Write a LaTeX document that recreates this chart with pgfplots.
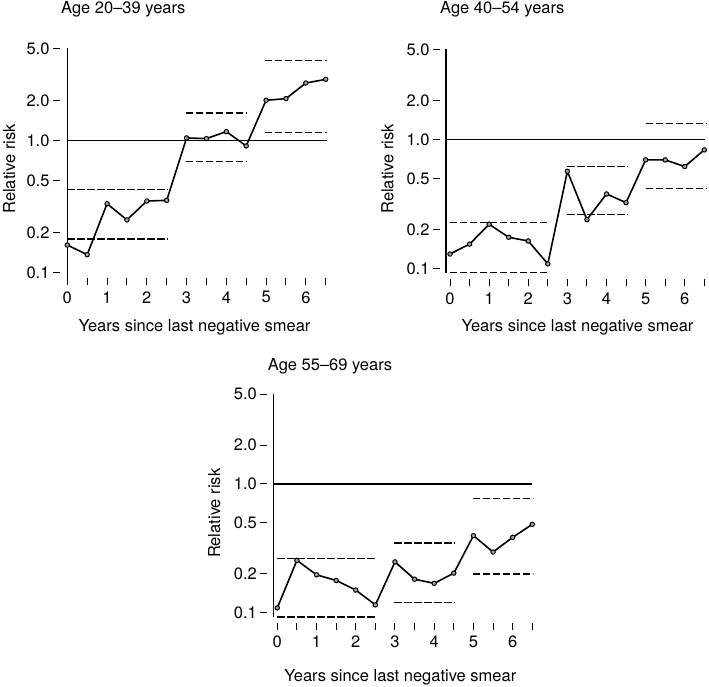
\documentclass[border=0pt]{standalone}
\usepackage{fontspec}
\setmainfont{TeX Gyre Heros}
\usepackage{pgfplots}
\pgfplotsset{compat=1.18}
\newcommand{\fs}{\fontsize{16.5}{19.8}\selectfont}
\pgfplotsset{
  myrefl/.style={black, line width=1.4pt, forget plot},
  myci/.style={black, line width=1.4pt, dash pattern=on 7.3pt off 2.7pt, forget plot},
  myrr/.style={black, line width=1.6pt, mark=*, mark size=2.2pt,
    mark options={solid, fill=gray!70, draw=black, line width=1pt}},
}
\begin{document}
\begin{tikzpicture}
\useasboundingbox (0,0) rectangle (709pt,686pt);
% ---------------- Panel 1: Age 20-39 ----------------
\begin{axis}[scale only axis, anchor=south west, ymode=log, ymax=5, xmax=6.6,
    axis x line*=bottom, axis y line*=left,
    axis line style={draw=none},
    tick align=outside, major tick length=7pt,
    tick style={black, line width=1pt},
    yminorticks=false, xminorticks=false,
    ytick={0.1,0.2,0.5,1,2,5},
    yticklabels={0.1,0.2,0.5,1.0,2.0,5.0},
    xtick={0,0.5,1,1.5,2,2.5,3,3.5,4,4.5,5,5.5,6,6.5},
    xticklabels={0,,1,,2,,3,,4,,5,,6,},
    tick label style={font=\fs},
    xticklabel style={yshift=-3pt},
    /pgf/number format/assume math mode=true,
    clip=false,
  at={(60pt,408pt)}, width=269.7pt, height=229.7pt,
  xmin=-0.184, ymin=0.0912]
  \addplot[myrefl, line width=1.6pt] coordinates {(0,0.0855) (0,5)};
  \addplot[myrefl] coordinates {(0,1) (6.52,1)};
  \addplot[myci] coordinates {(0,0.428) (2.52,0.428)};
  \addplot[myci] coordinates {(0,0.180) (2.52,0.180)};
  \addplot[myci] coordinates {(2.98,1.62) (4.51,1.62)};
  \addplot[myci] coordinates {(2.98,0.693) (4.51,0.693)};
  \addplot[myci] coordinates {(4.97,4.04) (6.52,4.04)};
  \addplot[myci] coordinates {(4.97,1.15) (6.52,1.15)};
  \addplot[myrr] coordinates {
    (0,0.162) (0.5,0.137) (1,0.333) (1.5,0.251) (2,0.349) (2.5,0.353)
    (3,1.048) (3.5,1.036) (4,1.17) (4.5,0.912)
    (5,2.02) (5.5,2.08) (6,2.73) (6.5,2.91)};
\end{axis}
% ---------------- Panel 2: Age 40-54 ----------------
\begin{axis}[scale only axis, anchor=south west, ymode=log, ymax=5, xmax=6.6,
    axis x line*=bottom, axis y line*=left,
    axis line style={draw=none},
    tick align=outside, major tick length=7pt,
    tick style={black, line width=1pt},
    yminorticks=false, xminorticks=false,
    ytick={0.1,0.2,0.5,1,2,5},
    yticklabels={0.1,0.2,0.5,1.0,2.0,5.0},
    xtick={0,0.5,1,1.5,2,2.5,3,3.5,4,4.5,5,5.5,6,6.5},
    xticklabels={0,,1,,2,,3,,4,,5,,6,},
    tick label style={font=\fs},
    xticklabel style={yshift=-3pt},
    /pgf/number format/assume math mode=true,
    clip=false,
  at={(440pt,406.7pt)}, width=268.2pt, height=230pt,
  xmin=-0.256, ymin=0.0828]
  \addplot[myrefl, line width=1.6pt] coordinates {(-0.1,0.0931) (-0.1,5)};
  \addplot[myrefl] coordinates {(-0.1,1) (6.52,1)};
  \addplot[myci] coordinates {(0,0.227) (2.53,0.227)};
  \addplot[myci] coordinates {(0,0.093) (2.53,0.093)};
  \addplot[myci] coordinates {(3,0.618) (4.56,0.618)};
  \addplot[myci] coordinates {(3,0.262) (4.56,0.262)};
  \addplot[myci] coordinates {(5,1.33) (6.56,1.33)};
  \addplot[myci] coordinates {(5,0.420) (6.56,0.420)};
  \addplot[myrr] coordinates {
    (0,0.130) (0.5,0.155) (1,0.221) (1.5,0.175) (2,0.164) (2.5,0.109)
    (3,0.568) (3.5,0.240) (4,0.379) (4.5,0.325)
    (5,0.696) (5.5,0.696) (6,0.618) (6.5,0.832)};
\end{axis}
% ---------------- Panel 3: Age 55-69 ----------------
\begin{axis}[scale only axis, anchor=south west, ymode=log, ymax=5, xmax=6.6,
    axis x line*=bottom, axis y line*=left,
    axis line style={draw=none},
    tick align=outside, major tick length=7pt,
    tick style={black, line width=1pt},
    yminorticks=false, xminorticks=false,
    ytick={0.1,0.2,0.5,1,2,5},
    yticklabels={0.1,0.2,0.5,1.0,2.0,5.0},
    xtick={0,0.5,1,1.5,2,2.5,3,3.5,4,4.5,5,5.5,6,6.5},
    xticklabels={0,,1,,2,,3,,4,,5,,6,},
    tick label style={font=\fs},
    xticklabel style={yshift=-3pt},
    /pgf/number format/assume math mode=true,
    clip=false,
  at={(267.3pt,63.3pt)}, width=268.9pt, height=228.7pt,
  xmin=-0.255, ymin=0.0836]
  \addplot[myrefl, line width=1.6pt] coordinates {(-0.092,0.092) (-0.092,5)};
  \addplot[myrefl] coordinates {(-0.092,1) (6.5,1)};
  \addplot[myci] coordinates {(0,0.263) (2.53,0.263)};
  \addplot[myci] coordinates {(0,0.0925) (2.53,0.0925)};
  \addplot[myci] coordinates {(2.98,0.348) (4.53,0.348)};
  \addplot[myci] coordinates {(2.98,0.120) (4.53,0.120)};
  \addplot[myci] coordinates {(4.98,0.774) (6.51,0.774)};
  \addplot[myci] coordinates {(4.98,0.200) (6.51,0.200)};
  \addplot[myrr] coordinates {
    (0,0.109) (0.5,0.255) (1,0.197) (1.5,0.178) (2,0.150) (2.5,0.115)
    (3,0.248) (3.5,0.182) (4,0.169) (4.5,0.203)
    (5,0.397) (5.5,0.296) (6,0.385) (6.5,0.486)};
\end{axis}
% ---------------- Titles and labels ----------------
\node[anchor=base west, inner sep=0, font=\fs] at (61pt,672.7pt) {Age 20--39 years};
\node[anchor=base west, inner sep=0, font=\fs] at (440pt,672.7pt) {Age 40--54 years};
\node[anchor=base west, inner sep=0, font=\fs] at (267.7pt,315.3pt) {Age 55--69 years};
\node[anchor=base, inner sep=0, font=\fs] at (194.5pt,354.3pt) {Years since last negative smear};
\node[anchor=base, inner sep=0, font=\fs] at (577.5pt,354.3pt) {Years since last negative smear};
\node[anchor=base, inner sep=0, font=\fs] at (400.3pt,4.3pt) {Years since last negative smear};
\node[anchor=base, inner sep=0, rotate=90, font=\fs] at (15pt,517pt) {Relative risk};
\node[anchor=base, inner sep=0, rotate=90, font=\fs] at (393.3pt,517pt) {Relative risk};
\node[anchor=base, inner sep=0, rotate=90, font=\fs] at (220pt,172.7pt) {Relative risk};
\end{tikzpicture}
\end{document}
